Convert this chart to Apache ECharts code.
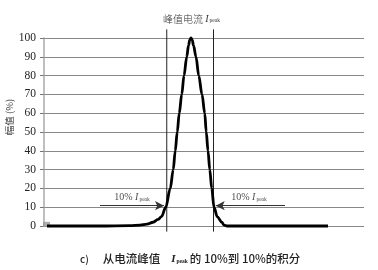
<!DOCTYPE html>
<html><head><meta charset="utf-8">
<script src="https://cdn.jsdelivr.net/npm/echarts@6/dist/echarts.min.js"></script>
<style>html,body{margin:0;padding:0;background:#fff}#c{width:378px;height:270px}</style>
</head><body><div id="c"></div>
<script>
// curve samples: [time (arb. units), amplitude %]
const curveX = [1.2,22.4,34.4,38.4,41.2,43.6,45.6,47.0,48.7,50.5,51.7,52.5,53.3,54.1,55.1,56.0,57.1,57.8,58.3,58.8,59.3,59.8,60.8,61.9,63.2,64.3,64.9,65.6,66.3,67.1,68.0,69.3,71.1,72.0,73.2,113.6];
const curveY = [0,0,0.2,0.5,1,2,3.5,5,10,20,30,40,50,60,70,80,90,96,99,100,99,96,90,80,70,60,50,40,30,20,10,5,2,0.5,0,0];
const yTicks = [0,10,20,30,40,50,60,70,80,90,100];
const tenPctLines = [49.1, 67.8];
const lineSpan = [-3.0, 104.6];
const arrowY = 10.8;
const leftArrow = [22.4, 48.0];
const rightArrow = [96.4, 68.7];
const labelPos = [[35.2, 15], [82.0, 15]];
const keyMark = [[1.0, 0.9]];

const serif = '"Liberation Serif","DejaVu Serif",serif';
const cjk = '"Noto Sans CJK SC","Liberation Serif",serif';
const richPeak = {
  a:{fontFamily:serif,fontSize:10,color:'#222'},
  i:{fontFamily:serif,fontSize:10,fontStyle:'italic',color:'#222'},
  s:{fontFamily:serif,fontSize:5.5,color:'#222',verticalAlign:'bottom',padding:[4,0,0,1]}
};

const chart = echarts.init(document.getElementById('c'), null, {renderer:'canvas'});
const curve = curveX.map((x,i)=>[x,curveY[i]]);
const vSeries = tenPctLines.map(x=>({
  type:'line', data:[[x,lineSpan[0]],[x,lineSpan[1]]], clip:false, symbol:'none',
  lineStyle:{color:'#222',width:1}, silent:true, z:3
}));
chart.setOption({
  animation:false,
  backgroundColor:'#fff',
  title:[
    {text:'峰值电流 {i|I}{s|peak}', left:158, top:9,
     textStyle:{fontFamily:cjk,fontSize:10,fontWeight:300,color:'#333',
       rich:{i:{fontFamily:serif,fontSize:10,fontStyle:'italic',color:'#333'},
             s:{fontFamily:serif,fontSize:5.5,color:'#333',verticalAlign:'bottom',padding:[4,0,0,1]}}}},
    {text:'{c|c)}{m|从电流峰值}{i|I}{s|peak}{m|的 10%到 10%的积分}', left:75, top:248,
     textStyle:{
       rich:{c:{fontFamily:cjk,fontSize:10,fontWeight:500,color:'#222',padding:[0,14,0,0]},
             m:{fontFamily:cjk,fontSize:11.5,fontWeight:500,color:'#222'},
             i:{fontFamily:serif,fontSize:11,fontStyle:'italic',color:'#222',padding:[0,0,0,11]},
             s:{fontFamily:serif,fontSize:5.5,color:'#222',verticalAlign:'bottom',padding:[4,2,0,1]}}}}
  ],
  graphic:[{type:'text',x:9,y:117,rotation:Math.PI/2,
    style:{text:'幅值 (%)',fontFamily:cjk,fontSize:9.5,fill:'#444',align:'center',verticalAlign:'middle'}}],
  grid:{left:44,right:14,top:38,bottom:44,containLabel:false},
  xAxis:{type:'value',min:0,max:128,show:true,
    axisLine:{show:false},axisTick:{show:false},axisLabel:{show:false},splitLine:{show:false}},
  yAxis:{type:'value',min:0,max:100,interval:10,
    axisLine:{show:true,lineStyle:{color:'#aaa',width:1.5}},
    axisTick:{show:true,length:4,inside:false,lineStyle:{color:'#777'}},
    axisLabel:{margin:8,fontFamily:serif,fontSize:11.5,color:'#222',
      formatter:v=>yTicks.includes(v)?String(v):''},
    splitLine:{show:true,lineStyle:{color:'#888',width:1}}},
  series:[
    ...vSeries,
    {type:'line', data:curve, smooth:0.35, smoothMonotone:'x', symbol:'none', clip:false,
     lineStyle:{color:'#000',width:2.8}, z:5,
     markLine:{silent:true, symbol:['none','arrow'], symbolSize:[7,9],
       lineStyle:{color:'#333',width:1,type:'solid'}, label:{show:false},
       data:[
         [{coord:[leftArrow[0],arrowY]},{coord:[leftArrow[1],arrowY]}],
         [{coord:[rightArrow[0],arrowY]},{coord:[rightArrow[1],arrowY]}]
       ]}},
    {type:'scatter', data:labelPos, symbolSize:0, silent:true,
     label:{show:true, position:'inside', formatter:'{a|10% }{i|I}{s|peak}', rich:richPeak}},
    {type:'scatter', data:keyMark, symbol:'rect', symbolSize:[7,5], silent:true,
     itemStyle:{color:'#999'}, z:2}
  ]
});
</script></body></html>
